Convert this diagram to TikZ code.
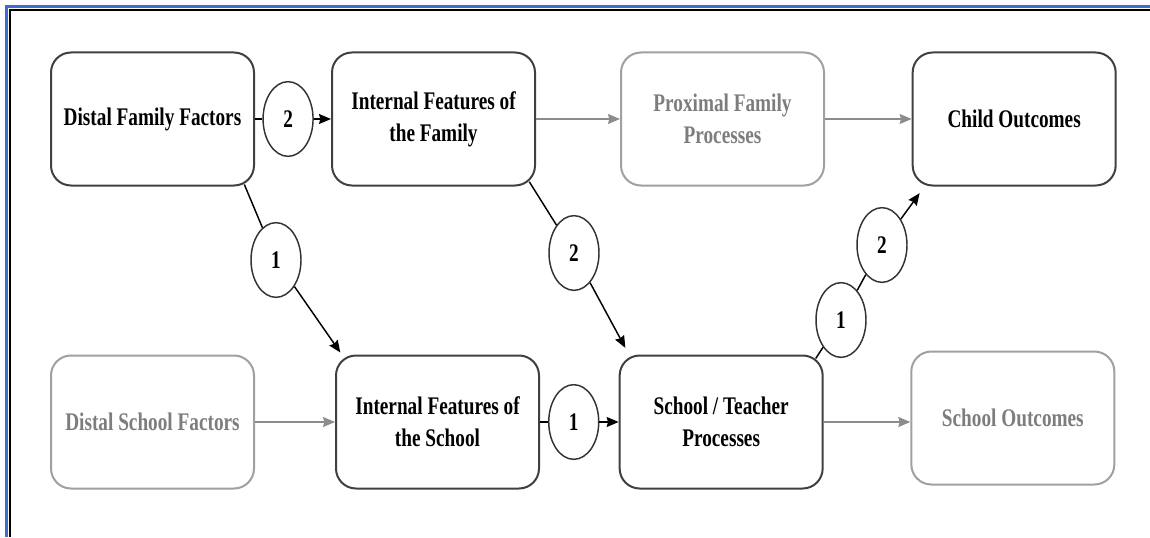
\documentclass[tikz,border=0pt]{standalone}
\usepackage{fontspec}
\usepackage{tikz}
\usetikzlibrary{arrows,arrows.meta,shapes,positioning}
\newfontfamily\diagfont[FakeStretch=0.76]{Liberation Serif}
\definecolor{FrameBlue}{RGB}{60,110,205}
\definecolor{BoxGray}{RGB}{160,160,160}
\definecolor{TextGray}{RGB}{125,125,125}
\definecolor{LinkGray}{RGB}{140,140,140}

\begin{document}
\begin{tikzpicture}[x=0.75pt, y=0.75pt, >={Stealth[length=9pt,width=7.5pt,inset=1pt]},
	   line width=1.1pt, text=black,
	   every new ->/.style = {shorten >=1pt},
	   every node/.style={font=\diagfont\bfseries\fontsize{19}{24}\selectfont},
	   factorbox/.style 2 args = {rectangle, rounded corners=15pt,
	                               minimum width=152.25pt, minimum height=99.75pt,
	                               inner sep=0pt, align=center, line width=1.5pt,
	                               draw=#1, text=#2},
	   mainbox/.style = {factorbox={black!75}{black}},
	   fadedbox/.style = {factorbox={BoxGray}{TextGray}},
	   pathnum/.style = {ellipse, draw=black!80, line width=1.1pt, fill=white,
	                     minimum width=37.5pt, minimum height=56pt, inner sep=0pt}]
	\useasboundingbox (0,0) rectangle (1150,537);
	%% Frame
	\draw[FrameBlue, line width=2pt] (6.5,0) -- (6.5,530.5) -- (1150,530.5);
	\draw[black, line width=2.2pt] (10,0) -- (10,527) -- (1150,527);

	%% Family row
	\node [mainbox] (dff) at (152.5,418) {Distal Family Factors};
	\node [mainbox,right=57pt of dff] (iff) {Internal Features of\\the Family};
	\node [fadedbox,right=63pt of iff] (pfp) {Proximal Family\\Processes};
	\node [mainbox,right=65pt of pfp] (co) {Child Outcomes};

	%% School row
	\node [fadedbox,below=126pt of dff] (dsf) {Distal School Factors};
	\node [mainbox,right=60pt of dsf] (ifs) {Internal Features of\\the School};
	\node [mainbox,right=59pt of ifs] (stp) {School / Teacher\\Processes};
	\node [fadedbox,right=65pt of stp,yshift=3pt] (so) {School Outcomes};

	%% Pathway numbers
	\node [pathnum,right=5.5pt of dff] (ctop) {2};
	\node [pathnum,right=6pt of ifs] (cbot) {1};
	\node [pathnum] (cleft) at (276,277) {1};
	\node [pathnum] (cmid) at (574,284) {2};
	\node [pathnum] (clow) at (841,217) {1};
	\node [pathnum] (chigh) at (882,292) {2};

	%% Straight links
	\draw (dff) -- (ctop);
	\draw[->] (ctop) -- (iff);
	\draw (ifs) -- (cbot);
	\draw[->] (cbot) -- (stp);
	\draw[->,LinkGray] (iff) -- (pfp);
	\draw[->,LinkGray] (pfp) -- (co);
	\draw[->,LinkGray] (dsf) -- (ifs);
	\draw[->,LinkGray] (stp.east) -- (stp.east -| so.west);

	%% Diagonal links
	\draw ([shift={(-8pt,1.5pt)}]dff.south east) -- (cleft);
	\draw[->] (cleft) -- ([shift={(4pt,1.5pt)}]ifs.north west);
	\draw ([shift={(-5pt,3.5pt)}]iff.south east) -- (cmid);
	\draw[->] (cmid) -- ([shift={(5pt,5pt)}]stp.north west);
	\draw ([shift={(-6pt,-3pt)}]stp.north east) -- (clow);
	\draw (clow) -- (chigh);
	\draw[->] (chigh) -- ([shift={(6pt,-5pt)}]co.south west);
\end{tikzpicture}
\end{document}
